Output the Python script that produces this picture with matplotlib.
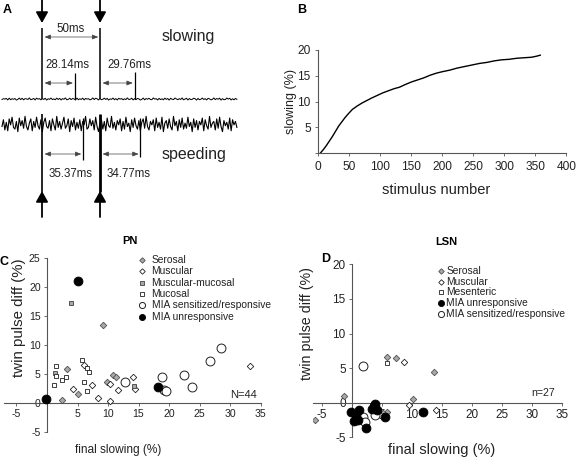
import numpy as np
import matplotlib
matplotlib.use('Agg')
import matplotlib.pyplot as plt
from matplotlib.lines import Line2D

plt.rcParams['font.family'] = ['Liberation Sans', 'DejaVu Sans']
plt.rcParams['axes.unicode_minus'] = False

W, H = 576, 457          # figure size in pixels


def fx(x):
    return x / W


def fy(y):
    return 1 - y / H


#  ------------------ DATA ------------------  #
# panel A: spike times (ms) relative to the first stimulus
stim_t = [0.0, 50.0]
slow_resp_t = [28.14, 79.76]
speed_resp_t = [35.37, 84.77]
slow_stim_amp = 71
slow_resp_amp = [26, 27]
speed_stim_amp = 68
speed_resp_amp = [36, 33]
slow_intervals = [(0.0, 50.0, '50ms'), (0.0, 28.14, '28.14ms'), (50.0, 79.76, '29.76ms')]
speed_intervals = [(0.0, 35.37, '35.37ms'), (50.0, 84.77, '34.77ms')]
speed_noise = [3, -5, 7, -2, 8, -6, 1, -8, 4, 6, -3, 9, -7, 2, -4, 5, -9, 3, 7, -1,
               -6, 8, -3, 4, -8, 2, 6, -5, 9, -2, -7, 3, 5, -4, 8, -6, 1, 7, -9, 4,
               -3, 6, -1, -8, 5, 2, -6, 9, -4, 3, -7, 7, -2, 5, -5, 8, -3, 1, -9, 6,
               4, -6, 2, -4, 7, -8, 3, 9, -1, -5, 6, -3, 8, -7, 2, 4, -9, 5, -2, 7,
               -4, 1, -6, 8, -3, 6, -8, 3, -1, 9, -5, 4, -7, 2, 6, -4, 8, -2, -6, 5,
               -9, 3, 7, -3, 1, -5, 8, -7, 4, -2, 6, -8, 9, -1, -4, 5, -6, 3, 7, -9,
               2, -3, 8, -5, 4, -7, 6, -1, 5, -8, 3, -2, 9, -6, 4, -4, 7, -3, 1, -7,
               8, -5, 2, 6, -9, 4, -1, -3, 7, -6, 5, -8, 3, 9, -4, 2, -2, 6, -7, 8,
               -5, 1, -3, 4]

# panel B
stim_num = [3, 8, 13, 18, 23, 28, 33, 38, 43, 48, 55, 62, 70, 78, 86, 95, 104, 113,
            122, 131, 140, 150, 160, 170, 180, 190, 200, 212, 224, 236, 248, 260,
            272, 284, 296, 308, 320, 332, 344, 352, 358]
slowing_pct = [0.0, 0.7, 1.5, 2.4, 3.3, 4.3, 5.3, 6.1, 6.9, 7.6, 8.5, 9.1, 9.7, 10.2,
               10.7, 11.2, 11.7, 12.1, 12.5, 12.8, 13.3, 13.8, 14.2, 14.6, 15.1, 15.5,
               15.8, 16.1, 16.5, 16.8, 17.1, 17.4, 17.6, 17.9, 18.1, 18.2, 18.4, 18.5,
               18.6, 18.8, 19.0]

# panel C (PN)
pn_serosal_x = [3.2, 5.1, 2.4, 9.1, 9.8, 10.9, 11.3]
pn_serosal_y = [5.9, 1.5, 0.5, 13.4, 3.6, 4.9, 4.5]
pn_muscular_x = [6.1, 7.3, 4.3, 8.4, 10.3, 10.3, 11.6, 14.1, 14.4, 33.3]
pn_muscular_y = [6.55, 3.1, 2.35, 0.8, 0.35, 3.2, 2.2, 4.4, 2.4, 6.3]
pn_musmuc_x = [3.9, 1.3, 14.3]
pn_musmuc_y = [17.2, 5.1, 3.0]
pn_mucosal_x = [1.4, 1.4, 3.1, 2.4, 1.2, 5.7, 6.5, 6.9, 6.0, 6.5]
pn_mucosal_y = [6.4, 4.7, 4.5, 4.0, 3.1, 7.4, 6.1, 5.4, 3.7, 2.1]
pn_mia_sens_x = [28.6, 26.8, 22.5, 18.9, 23.8, 19.1, 19.5, 12.8]
pn_mia_sens_y = [9.5, 7.2, 4.8, 4.5, 2.7, 2.2, 2.1, 3.6]
pn_mia_unresp_x = [5.0, 18.2, -0.2]
pn_mia_unresp_y = [21.0, 2.7, 0.7]

# panel D (LSN)
lsn_serosal_x = [5.8, 7.4, 13.6, -1.3, -6.2, 10.1, 5.9, 5.1]
lsn_serosal_y = [6.6, 6.4, 4.4, 0.9, -2.5, 0.6, -1.4, -1.5]
lsn_muscular_x = [8.6, 9.5, 14.0, 4.7]
lsn_muscular_y = [5.9, -0.3, -1.0, -1.8]
lsn_mesenteric_x = [5.9]
lsn_mesenteric_y = [5.7]
lsn_mia_unresp_x = [11.9, -0.2, 1.2, 0.7, 0.3, 0.95, 2.4, 3.9, 3.4, 4.2, 3.7, 5.5]
lsn_mia_unresp_y = [-1.4, -1.4, -1.05, -1.8, -2.7, -2.5, -3.6, -0.2, -0.9, -1.05, -0.5, -2.0]
lsn_mia_sens_x = [1.9, 1.9, 2.2, 3.9]
lsn_mia_sens_y = [5.3, -2.0, -2.8, -1.8]

#  ------------------ STYLES ------------------  #
GRAY = '#a8a8a8'
sty = {
    'gray_d': dict(marker='D', mfc=GRAY, mec='#505050', mew=0.6),
    'open_d': dict(marker='D', mfc='white', mec='#202020', mew=0.6),
    'gray_s': dict(marker='s', mfc=GRAY, mec='#404040', mew=0.6),
    'open_s': dict(marker='s', mfc='white', mec='#202020', mew=0.6),
    'open_o': dict(marker='o', mfc='white', mec='#202020', mew=0.7),
    'fill_o': dict(marker='o', mfc='black', mec='black', mew=0.6),
}
size_big = {'D': 3.3, 's': 3.4, 'o': 6.4}
size_leg = {'D': 2.8, 's': 2.6, 'o': 4.4}

fig = plt.figure(figsize=(W / 100, H / 100), dpi=100)

#  ------------------ PANEL A ------------------  #
axA = fig.add_axes([0, fy(220), fx(250), 220 / H])
axA.set_xlim(-36.2, 179.3)
axA.set_ylim(220, 0)
axA.axis('off')

t_trace = np.linspace(-34.5, 168, len(speed_noise))
noise = np.array(speed_noise)
slow_base, speed_base = 99, 124
axA.plot(t_trace, slow_base + noise[::-1] * 0.12, color='black', lw=0.7)
axA.vlines(stim_t, slow_base, slow_base - slow_stim_amp, color='black', lw=1.1)
axA.vlines(slow_resp_t, slow_base, slow_base - np.array(slow_resp_amp), color='black', lw=0.9)

axA.plot(t_trace, speed_base + noise * 0.85, color='black', lw=0.8)
axA.vlines(stim_t, speed_base - 10, speed_base + speed_stim_amp, color='black', lw=[1.2, 2.0])
axA.vlines(speed_resp_t, speed_base - 6, speed_base + np.array(speed_resp_amp), color='black', lw=0.9)

big_arrow = dict(arrowstyle='-|>,head_length=0.5,head_width=0.28', color='black',
                 lw=1.3, mutation_scale=13, shrinkA=0, shrinkB=0)
for t in stim_t:
    axA.annotate('', xy=(t, 23), xytext=(t, -1), arrowprops=big_arrow)
    axA.annotate('', xy=(t, 191), xytext=(t, 217), arrowprops=big_arrow)

dbl = dict(arrowstyle='<|-|>,head_length=0.45,head_width=0.18', color='#444444',
           lw=0.5, mutation_scale=8, shrinkA=0, shrinkB=0)
for (a, b, lab), ya, (tx, ty) in zip(slow_intervals, [37, 83, 83],
                                     [(25, 28.7), (21.6, 65), (75, 65)]):
    axA.annotate('', xy=(b - 1.5, ya), xytext=(a + 2.2, ya), arrowprops=dbl)
    axA.text(tx, ty, lab, fontsize=8.3, ha='center', va='center', color='#222222')
for (a, b, lab), (tx, ty) in zip(speed_intervals, [(25, 174), (75, 174)]):
    axA.annotate('', xy=(b - 1.5, 154), xytext=(a + 2.2, 154), arrowprops=dbl)
    axA.text(tx, ty, lab, fontsize=8.3, ha='center', va='center', color='#222222')
axA.text(103.4, 36, 'slowing', fontsize=11.5, ha='left', va='center', color='#222222')
axA.text(103.4, 155, 'speeding', fontsize=11.5, ha='left', va='center', color='#222222')

#  ------------------ PANEL B ------------------  #
axB = fig.add_axes([fx(318.3), fy(153.3), 248 / W, 103.3 / H])
axB.plot(stim_num, slowing_pct, color='black', lw=1.0)
axB.set_xlim(0, 400)
axB.set_ylim(0, 20)
axB.set_xticks(range(0, 401, 50))
axB.set_yticks([0, 5, 10, 15, 20])
axB.set_yticklabels(['', '5', '10', '15', '20'])
for s in ['top', 'right']:
    axB.spines[s].set_visible(False)
for s in ['left', 'bottom']:
    axB.spines[s].set_color('#555555')
    axB.spines[s].set_linewidth(0.8)
axB.tick_params(labelsize=8.6, length=2.5, width=0.6, pad=3, color='#555555', labelcolor='#222222')
fig.text(fx(436), fy(190), 'stimulus number', fontsize=10.5, ha='center', va='center', color='#222222')
fig.text(fx(291), fy(102), 'slowing (%)', fontsize=9, ha='center', va='center',
         rotation=90, color='#222222')


#  ------------------ PANELS C / D ------------------  #
def setup_scatter(ax, xlim, ylim, xticks, yticks, fs):
    ax.set_xlim(*xlim)
    ax.set_ylim(*ylim)
    ax.patch.set_alpha(0)
    for s in ['top', 'right']:
        ax.spines[s].set_visible(False)
    for s in ['left', 'bottom']:
        ax.spines[s].set_position(('data', 0))
        ax.spines[s].set_color('#555555')
        ax.spines[s].set_linewidth(0.8)
    ax.set_xticks(xticks)
    ax.set_yticks(yticks)
    ax.tick_params(labelsize=fs, length=2.5, width=0.6, pad=2, color='#555555',
                   labelcolor='#222222')


def draw_group(ax, x, y, key):
    st = sty[key]
    ax.plot(x, y, linestyle='none', ms=size_big[st['marker']], zorder=3, **st)


def legend_rows(entries, x_marker, x_text, y0, dy, fs):
    for i, (label, key) in enumerate(entries):
        y = y0 + i * dy
        st = sty[key]
        fig.add_artist(Line2D([fx(x_marker)], [fy(y)], transform=fig.transFigure,
                              linestyle='none', ms=size_leg[st['marker']], **st))
        fig.text(fx(x_text), fy(y), label, fontsize=fs, ha='left', va='center',
                 color='#222222')


axC = fig.add_axes([fx(4.3), fy(432), 256.2 / W, 174 / H])
setup_scatter(axC, (-7, 35), (-5, 25), [-5, 5, 10, 15, 20, 25, 30, 35],
              [-5, 0, 5, 10, 15, 20, 25], 7.6)
draw_group(axC, pn_serosal_x, pn_serosal_y, 'gray_d')
draw_group(axC, pn_muscular_x, pn_muscular_y, 'open_d')
draw_group(axC, pn_musmuc_x, pn_musmuc_y, 'gray_s')
draw_group(axC, pn_mucosal_x, pn_mucosal_y, 'open_s')
draw_group(axC, pn_mia_sens_x, pn_mia_sens_y, 'open_o')
draw_group(axC, pn_mia_unresp_x, pn_mia_unresp_y, 'fill_o')
legend_rows([('Serosal', 'gray_d'), ('Muscular', 'open_d'),
             ('Muscular-mucosal', 'gray_s'), ('Mucosal', 'open_s'),
             ('MIA sensitized/responsive', 'open_o'), ('MIA unresponsive', 'fill_o')],
            141.7, 151.5, 260, 11.3, 7.4)
fig.text(fx(257), fy(395), 'N=44', fontsize=8, ha='right', va='center', color='#222222')
fig.text(fx(129.5), fy(241), 'PN', fontsize=8, fontweight='bold', ha='center', va='center')
fig.text(fx(118), fy(450), 'final slowing (%)', fontsize=8.6, ha='center', va='center',
         color='#222222')
fig.text(fx(19), fy(318), 'twin pulse diff (%)', fontsize=10.8, ha='center', va='center',
         rotation=90, color='#222222')

axD = fig.add_axes([fx(313), fy(437.3), 249 / W, 173 / H])
setup_scatter(axD, (-6.5, 35), (-5, 20), [-5, 5, 10, 15, 20, 25, 30, 35],
              [-5, 0, 5, 10, 15, 20], 8.5)
draw_group(axD, lsn_serosal_x, lsn_serosal_y, 'gray_d')
draw_group(axD, lsn_muscular_x, lsn_muscular_y, 'open_d')
draw_group(axD, lsn_mesenteric_x, lsn_mesenteric_y, 'open_s')
draw_group(axD, lsn_mia_sens_x, lsn_mia_sens_y, 'open_o')
draw_group(axD, lsn_mia_unresp_x, lsn_mia_unresp_y, 'fill_o')
legend_rows([('Serosal', 'gray_d'), ('Muscular', 'open_d'), ('Mesenteric', 'open_s'),
             ('MIA unresponsive', 'fill_o'), ('MIA sensitized/responsive', 'open_o')],
            440.7, 446.5, 271, 10.7, 7.4)
fig.text(fx(555), fy(393), 'n=27', fontsize=7.6, ha='right', va='center', color='#222222')
fig.text(fx(446), fy(242), 'LSN', fontsize=8, fontweight='bold', ha='center', va='center')
fig.text(fx(442), fy(450), 'final slowing (%)', fontsize=10.5, ha='center', va='center',
         color='#222222')
fig.text(fx(307), fy(323), 'twin pulse diff (%)', fontsize=10.3, ha='center', va='center',
         rotation=90, color='#222222')

# panel letters
for lab, x, y in [('A', 3, 4), ('B', 297, 4), ('C', 0, 256), ('D', 321, 253)]:
    fig.text(fx(x), fy(y), lab, fontsize=9, fontweight='bold', ha='left', va='top')

fig.savefig('out.png', dpi=100)
